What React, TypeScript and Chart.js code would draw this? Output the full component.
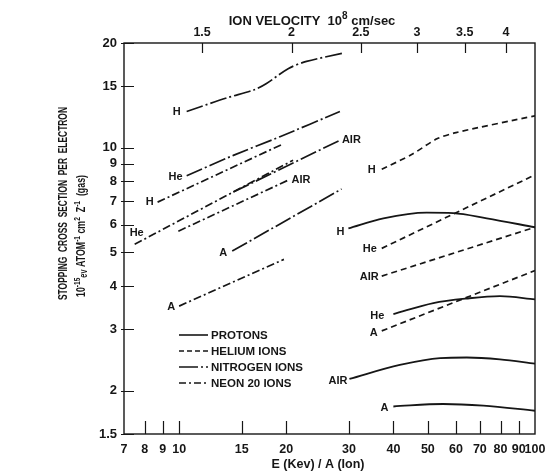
import React, { useEffect, useRef } from "react";
import { Chart, registerables } from "chart.js";

Chart.register(...registerables);

// ---------- axis ticks ----------
const Y_TICKS = [1.5, 2, 3, 4, 5, 6, 7, 8, 9, 10, 15, 20];
const E_TICKS = [7, 8, 9, 10, 15, 20, 30, 40, 50, 60, 70, 80, 90, 100];
const VELOCITY_LABELS = ["1.5", "2", "2.5", "3", "3.5", "4"];
const VELOCITY_AT_E = [11.6, 20.7, 32.4, 46.6, 63.5, 82.9];

// ---------- protons (solid) ----------
const PROTON_H_E = [29.9, 37.5, 49.6, 58.9, 73.2, 100];
const PROTON_H_S = [5.86, 6.26, 6.5, 6.48, 6.26, 5.9];
const PROTON_HE_E = [40, 51.8, 64.3, 79.7, 100];
const PROTON_HE_S = [3.32, 3.57, 3.68, 3.74, 3.66];
const PROTON_AIR_E = [30.1, 41.7, 54.1, 64.3, 79.7, 100];
const PROTON_AIR_S = [2.16, 2.37, 2.48, 2.49, 2.46, 2.39];
const PROTON_A_E = [40, 55.2, 71.6, 100];
const PROTON_A_S = [1.8, 1.83, 1.81, 1.75];

// ---------- helium ions (dashed) ----------
const HELIUM_H_E = [37.1, 45, 53, 60, 100];
const HELIUM_H_S = [8.66, 9.55, 10.6, 11.05, 12.35];
const HELIUM_HE_E = [37.1, 100];
const HELIUM_HE_S = [5.13, 8.35];
const HELIUM_AIR_E = [37.1, 100];
const HELIUM_AIR_S = [4.27, 5.9];
const HELIUM_A_E = [37.1, 100];
const HELIUM_A_S = [2.97, 4.43];

// ---------- nitrogen ions (long dash - dot) ----------
const NITROGEN_H_E = [10.5, 13.6, 16.2, 17.6, 20.3, 22.8, 28.9];
const NITROGEN_H_S = [12.7, 13.9, 14.65, 15.3, 16.9, 17.7, 18.7];
const NITROGEN_HE_E = [10.5, 14.2, 19.2, 28.3];
const NITROGEN_HE_S = [8.3, 9.5, 10.75, 12.7];
const NITROGEN_AIR_E = [14.2, 28.3];
const NITROGEN_AIR_S = [7.45, 10.5];
const NITROGEN_A_E = [14.1, 28.6];
const NITROGEN_A_S = [5.04, 7.6];

// ---------- neon 20 ions (dash - dot) ----------
const NEON_H_E = [8.7, 19.4];
const NEON_H_S = [6.97, 10.2];
const NEON_HE_E = [7.5, 20.9];
const NEON_HE_S = [5.27, 9.2];
const NEON_AIR_E = [9.95, 20.3];
const NEON_AIR_S = [5.75, 8.07];
const NEON_A_E = [10.0, 19.7];
const NEON_A_S = [3.5, 4.77];

const LEGEND_LABELS = ["PROTONS", "HELIUM IONS", "NITROGEN IONS", "NEON 20 IONS"];

// ---------- styling ----------
const FONT = '"Liberation Sans", Arial, sans-serif';
const INK = "#161616";
const DASH: Record<string, number[]> = {
  protons: [],
  helium: [6, 4],
  nitrogen: [17, 3, 2, 3],
  neon: [8, 3, 2, 3],
};
const LEGEND_DASH = [[], [5, 3], [19, 3, 2, 3], [7, 3, 2, 3]];

type Curve = {
  id: string;
  kind: string;
  e: number[];
  s: number[];
  text: string;
  at: "start" | "end";
  dx: number;
  dy: number;
  tension: number;
};

const CURVES: Curve[] = [
  { id: "pH", kind: "protons", e: PROTON_H_E, s: PROTON_H_S, text: "H", at: "start", dx: -4, dy: 4, tension: 0.4 },
  { id: "pHe", kind: "protons", e: PROTON_HE_E, s: PROTON_HE_S, text: "He", at: "start", dx: -9, dy: 2, tension: 0.4 },
  { id: "pAIR", kind: "protons", e: PROTON_AIR_E, s: PROTON_AIR_S, text: "AIR", at: "start", dx: -2, dy: 2, tension: 0.4 },
  { id: "pA", kind: "protons", e: PROTON_A_E, s: PROTON_A_S, text: "A", at: "start", dx: -5, dy: 1, tension: 0.4 },
  { id: "hH", kind: "helium", e: HELIUM_H_E, s: HELIUM_H_S, text: "H", at: "start", dx: -6, dy: 1, tension: 0.25 },
  { id: "hHe", kind: "helium", e: HELIUM_HE_E, s: HELIUM_HE_S, text: "He", at: "start", dx: -5, dy: 1, tension: 0 },
  { id: "hAIR", kind: "helium", e: HELIUM_AIR_E, s: HELIUM_AIR_S, text: "AIR", at: "start", dx: -3, dy: 1, tension: 0 },
  { id: "hA", kind: "helium", e: HELIUM_A_E, s: HELIUM_A_S, text: "A", at: "start", dx: -4, dy: 2, tension: 0 },
  { id: "nH", kind: "nitrogen", e: NITROGEN_H_E, s: NITROGEN_H_S, text: "H", at: "start", dx: -6, dy: 0, tension: 0.3 },
  { id: "nHe", kind: "nitrogen", e: NITROGEN_HE_E, s: NITROGEN_HE_S, text: "He", at: "start", dx: -4, dy: 1, tension: 0.2 },
  { id: "nAIR", kind: "nitrogen", e: NITROGEN_AIR_E, s: NITROGEN_AIR_S, text: "AIR", at: "end", dx: 2, dy: 0, tension: 0 },
  { id: "nA", kind: "nitrogen", e: NITROGEN_A_E, s: NITROGEN_A_S, text: "A", at: "start", dx: -5, dy: 2, tension: 0 },
  { id: "neH", kind: "neon", e: NEON_H_E, s: NEON_H_S, text: "H", at: "start", dx: -4, dy: 0, tension: 0 },
  { id: "neHe", kind: "neon", e: NEON_HE_E, s: NEON_HE_S, text: "He", at: "start", dx: 2, dy: -11, tension: 0 },
  { id: "neAIR", kind: "neon", e: NEON_AIR_E, s: NEON_AIR_S, text: "AIR", at: "end", dx: 3, dy: 0, tension: 0 },
  { id: "neA", kind: "neon", e: NEON_A_E, s: NEON_A_S, text: "A", at: "start", dx: -4, dy: 1, tension: 0 },
];

type Run = { t: string; size: number; dy?: number };

function runsWidth(ctx: CanvasRenderingContext2D, runs: Run[]) {
  let w = 0;
  for (const r of runs) {
    ctx.font = `bold ${r.size}px ${FONT}`;
    w += ctx.measureText(r.t).width;
  }
  return w;
}

function drawRuns(ctx: CanvasRenderingContext2D, runs: Run[], x: number, y: number) {
  let cx = x;
  for (const r of runs) {
    ctx.font = `bold ${r.size}px ${FONT}`;
    ctx.fillText(r.t, cx, y + (r.dy || 0));
    cx += ctx.measureText(r.t).width;
  }
}

const TOP_TITLE: Run[] = [
  { t: "ION VELOCITY  10", size: 13 },
  { t: "8", size: 10, dy: -6 },
  { t: " cm/sec", size: 13 },
];
const BOTTOM_TITLE: Run[] = [{ t: "E (Kev) / A (Ion)", size: 12.5 }];
const Y_TITLE_1: Run[] = [{ t: "STOPPING  CROSS  SECTION  PER  ELECTRON", size: 12 }];
const Y_TITLE_2: Run[] = [
  { t: "10", size: 12 },
  { t: "-15", size: 9, dy: -5 },
  { t: "ev", size: 10, dy: 2 },
  { t: " ATOM", size: 12 },
  { t: "-1", size: 9, dy: -5 },
  { t: " cm", size: 12 },
  { t: "2", size: 9, dy: -5 },
  { t: "  Z", size: 12 },
  { t: "-1", size: 9, dy: -5 },
  { t: "  (gas)", size: 12 },
];

const decorPlugin = {
  id: "decor",
  afterDatasetsDraw(chart: any) {
    const ctx: CanvasRenderingContext2D = chart.ctx;
    const { left, right, top, bottom } = chart.chartArea;
    const xs = chart.scales.x;
    const x2 = chart.scales.x2;
    const ys = chart.scales.y;
    ctx.save();
    ctx.strokeStyle = INK;
    ctx.fillStyle = INK;
    ctx.setLineDash([]);

    // frame
    ctx.lineWidth = 1.4;
    ctx.strokeRect(left, top, right - left, bottom - top);

    // inward tick marks
    ctx.lineWidth = 1.2;
    ctx.beginPath();
    for (const t of ys.ticks) {
      const y = Math.round(ys.getPixelForValue(t.value)) + 0.5;
      ctx.moveTo(left - 3, y);
      ctx.lineTo(left + 10, y);
    }
    for (const t of xs.ticks) {
      if (t.value <= 7 || t.value >= 100) continue;
      const x = Math.round(xs.getPixelForValue(t.value)) + 0.5;
      ctx.moveTo(x, bottom);
      ctx.lineTo(x, bottom - 13);
    }
    for (const t of x2.ticks) {
      const x = Math.round(x2.getPixelForValue(t.value)) + 0.5;
      ctx.moveTo(x, top);
      ctx.lineTo(x, top + 10);
    }
    ctx.stroke();

    // curve labels
    ctx.font = `bold 11px ${FONT}`;
    ctx.textBaseline = "middle";
    CURVES.forEach((c, i) => {
      const pts = chart.getDatasetMeta(i).data;
      const p = c.at === "start" ? pts[0] : pts[pts.length - 1];
      ctx.textAlign = c.at === "start" && c.dx < 0 ? "right" : c.at === "start" ? "center" : "left";
      ctx.fillText(c.text, p.x + c.dx, p.y + c.dy);
    });

    // legend
    const lx0 = left + 55;
    const lx1 = left + 84;
    ctx.font = `bold 11.5px ${FONT}`;
    ctx.textAlign = "left";
    LEGEND_LABELS.forEach((lab, i) => {
      const y = bottom - 99 + i * 16;
      ctx.lineWidth = 1.6;
      ctx.setLineDash(LEGEND_DASH[i]);
      ctx.beginPath();
      ctx.moveTo(lx0, y);
      ctx.lineTo(lx1, y);
      ctx.stroke();
      ctx.setLineDash([]);
      ctx.fillText(lab, lx1 + 3, y + 1);
    });

    // titles
    ctx.textBaseline = "alphabetic";
    ctx.textAlign = "left";
    const tw = runsWidth(ctx, TOP_TITLE);
    drawRuns(ctx, TOP_TITLE, 312 - tw / 2, 25);
    const bw = runsWidth(ctx, BOTTOM_TITLE);
    drawRuns(ctx, BOTTOM_TITLE, 318 - bw / 2, 468);

    const fitRotated = (runs: Run[], x: number, y: number, target: number) => {
      const w = runsWidth(ctx, runs);
      ctx.save();
      ctx.translate(x, y);
      ctx.rotate(-Math.PI / 2);
      ctx.scale(target / w, 1);
      drawRuns(ctx, runs, 0, 0);
      ctx.restore();
    };
    fitRotated(Y_TITLE_1, 67, 300, 193);
    fitRotated(Y_TITLE_2, 85, 297, 122);

    ctx.restore();
  },
};

const noPad = (s: any) => {
  s.paddingLeft = 0;
  s.paddingRight = 0;
  s.paddingTop = 0;
  s.paddingBottom = 0;
};

export default function App() {
  const ref = useRef<HTMLCanvasElement | null>(null);

  useEffect(() => {
    if (!ref.current) return;
    const datasets = CURVES.map((c) => ({
      label: c.id,
      data: c.e.map((e, k) => ({ x: e, y: c.s[k] })),
      borderColor: INK,
      backgroundColor: INK,
      borderWidth: c.kind === "protons" ? 1.8 : 1.7,
      borderDash: DASH[c.kind],
      pointRadius: 0,
      fill: false,
      tension: c.tension,
      cubicInterpolationMode: c.kind === "protons" ? ("monotone" as const) : ("default" as const),
    }));

    const xFont = { family: FONT, size: 12.5, weight: "bold" as const };
    const yFont = { family: FONT, size: 13, weight: "bold" as const };

    const chart = new Chart(ref.current, {
      type: "line",
      data: { datasets },
      plugins: [decorPlugin],
      options: {
        animation: false,
        responsive: false,
        layout: { padding: { left: 0, right: 12, top: 0, bottom: 0 } },
        plugins: {
          legend: { display: false },
          tooltip: { enabled: false },
          title: { display: false },
        },
        scales: {
          x: {
            type: "logarithmic",
            position: "bottom",
            min: 7,
            max: 100,
            bounds: "data",
            grid: { display: false, drawTicks: false },
            border: { display: false },
            afterBuildTicks: (s: any) => {
              s.ticks = E_TICKS.map((v) => ({ value: v }));
            },
            afterFit: (s: any) => {
              s.height = 37;
              noPad(s);
            },
            ticks: {
              autoSkip: false,
              maxRotation: 0,
              padding: 8,
              color: INK,
              font: xFont,
              callback: (v: any) => String(v),
            },
          },
          x2: {
            type: "logarithmic",
            position: "top",
            min: 7,
            max: 100,
            bounds: "data",
            grid: { display: false, drawTicks: false },
            border: { display: false },
            afterBuildTicks: (s: any) => {
              s.ticks = VELOCITY_AT_E.map((v) => ({ value: v }));
            },
            afterFit: (s: any) => {
              s.height = 43;
              noPad(s);
            },
            ticks: {
              autoSkip: false,
              maxRotation: 0,
              padding: 3,
              color: INK,
              font: xFont,
              callback: (_v: any, i: number) => VELOCITY_LABELS[i],
            },
          },
          y: {
            type: "logarithmic",
            position: "left",
            min: 1.5,
            max: 20,
            bounds: "data",
            grid: { display: false, drawTicks: false },
            border: { display: false },
            afterBuildTicks: (s: any) => {
              s.ticks = Y_TICKS.map((v) => ({ value: v }));
            },
            afterFit: (s: any) => {
              s.width = 124;
              noPad(s);
            },
            ticks: {
              autoSkip: false,
              padding: 7,
              color: INK,
              font: yFont,
              callback: (v: any) => String(v),
            },
          },
        },
      },
    });
    return () => chart.destroy();
  }, []);

  return (
    <div style={{ position: "absolute", left: 0, top: 0, width: 547, height: 471, background: "#fff" }}>
      <canvas ref={ref} width={547} height={471} style={{ display: "block" }} />
    </div>
  );
}
